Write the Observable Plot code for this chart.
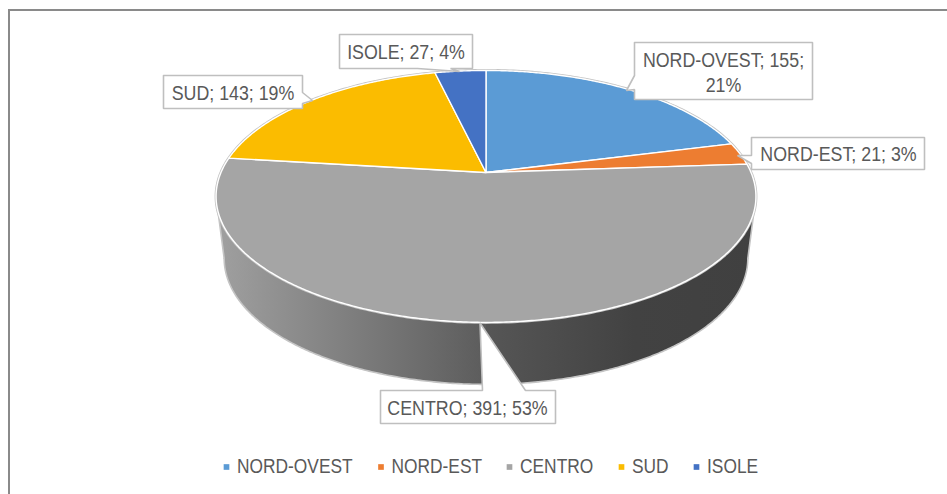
<!DOCTYPE html>
<html>
<head>
<meta charset="utf-8">
<script src="https://cdn.jsdelivr.net/npm/d3@7"></script>
<script src="https://cdn.jsdelivr.net/npm/@observablehq/plot@0.6"></script>
<style>
html,body{margin:0;padding:0;background:#fff}
svg{display:block}
</style>
</head>
<body>
<div id="chart"></div>
<script>
// Chart data
const categories = ["NORD-OVEST", "NORD-EST", "CENTRO", "SUD", "ISOLE"];
const values = [155, 21, 391, 143, 27];
const percents = [21, 3, 53, 19, 4];
const colors = ["#5B9BD5", "#ED7D31", "#A5A5A5", "#FBBC00", "#4472C4"];

// Layout of the perspective disc, in page pixels
const cx = 485.5, cy = 172, persp = 0.19, ax = 265, by = 121.4;
const base = {sx: 0.97, sy: 1, dy: 62};
const rad = (d) => d * Math.PI / 180;
function project(deg, sx = 1, sy = 1, dy = 0) {
  const u = Math.sin(rad(deg)), v = Math.cos(rad(deg)), w = 1 + persp * v;
  return {x: cx + sx * ax * u / w, y: cy + dy - sy * by * v / w};
}
const total = d3.sum(values);
const cum = d3.cumsum(values);

// Top face slices
const sliceRows = categories.flatMap((name, i) => {
  const a0 = (i ? cum[i - 1] : 0) / total * 360, a1 = cum[i] / total * 360;
  const pts = [{x: cx, y: cy}];
  for (let a = a0; a < a1; a += 0.5) pts.push(project(a));
  pts.push(project(a1), {x: cx, y: cy});
  return pts.map((p) => ({...p, name}));
});
// Whole rim
const rimRows = d3.range(0, 360.5, 1).map((a) => project(a));
// Side walls
function wall(a0, a1, key) {
  const lo = [], hi = [];
  const step = a1 > a0 ? 0.5 : -0.5;
  for (let a = a0; step > 0 ? a <= a1 : a >= a1; a += step) {
    lo.push(project(a, base.sx, base.sy, base.dy));
    hi.push(project(a));
  }
  return [...hi, ...lo.reverse(), hi[0]].map((p) => ({...p, key}));
}
const wallLeft = wall(180, 259, "l");
const wallRight = wall(101, 180, "r");
const baseEdge = d3.range(101, 259.5, 0.5).map((a) => project(a, base.sx, base.sy, base.dy));
const silhouetteL = [project(259), project(259, base.sx, base.sy, base.dy)];
const silhouetteR = [project(101), project(101, base.sx, base.sy, base.dy)];

// Label text
const labelText = categories.map((n, i) => `${n}; ${values[i]}; ${percents[i]}%`);
labelText[0] = `${categories[0]}; ${values[0]};\n${percents[0]}%`;
const labelPos = [
  {x: 723, y: 70.5}, {x: 838, y: 152.5}, {x: 467, y: 406}, {x: 232.5, y: 91}, {x: 405.5, y: 50.5}
];
const labels = labelText.map((t, i) => ({t, ...labelPos[i]}));
// Callout outlines
const calloutOutlines = [
  [[634,42],[812,42],[812,99],[634,99],[634,89],[626,90],[634,75]],
  [[751,137],[924,137],[924,169],[751,169],[751,163],[737,155],[751,155]],
  [[380,390],[482,390],[479.5,322.5],[525,390],[555,390],[555,423],[380,423]],
  [[163,75],[302,75],[302,92],[312,100],[302,103],[302,108],[163,108]],
  [[339,34],[472,34],[472,68],[450,68],[459,71],[417,68],[339,68]]
];
const calloutRows = calloutOutlines.flatMap((o, k) =>
  [...o, o[0]].map(([x, y]) => ({x, y, k})));

// Legend
const legendX = [226, 380.5, 509, 621, 696];
const legendRows = categories.map((name, i) => ({name, x: legendX[i]}));
const legendY = 466.5;

const defs = () => {
  const d = d3.create("svg:defs");
  const gl = d.append("linearGradient").attr("id", "wallL");
  gl.append("stop").attr("offset", 0).attr("stop-color", "#a0a0a0");
  gl.append("stop").attr("offset", 1).attr("stop-color", "#5c5c5c");
  const gr = d.append("linearGradient").attr("id", "wallR");
  gr.append("stop").attr("offset", 0).attr("stop-color", "#565656");
  gr.append("stop").attr("offset", 0.55).attr("stop-color", "#424242");
  gr.append("stop").attr("offset", 1).attr("stop-color", "#404040");
  return d.node();
};

const font = "Liberation Sans, Arial, sans-serif";
const chart = Plot.plot({
  width: 947, height: 494,
  margin: 0,
  x: {domain: [0, 947], range: [0, 947], axis: null},
  y: {domain: [0, 494], range: [0, 494], axis: null},
  color: {domain: categories, range: colors},
  style: {background: "#fff"},
  marks: [
    // chart frame (left and top only are in view)
    Plot.ruleX([8.5], {stroke: "#8a8a8a", strokeWidth: 2, y1: 9, y2: 494}),
    Plot.ruleY([9.5], {stroke: "#8a8a8a", strokeWidth: 2, x1: 8, x2: 947}),
    defs,
    Plot.line(wallLeft, {x: "x", y: "y", fill: "url(#wallL)", stroke: "none"}),
    Plot.line(wallRight, {x: "x", y: "y", fill: "url(#wallR)", stroke: "none"}),
    Plot.line(baseEdge, {x: "x", y: "y", stroke: "#c4c4c4", strokeWidth: 1.6}),
    Plot.line(silhouetteL, {x: "x", y: "y", stroke: "#c4c4c4", strokeWidth: 1.6}),
    Plot.line(silhouetteR, {x: "x", y: "y", stroke: "#c4c4c4", strokeWidth: 1.6}),
    Plot.line(rimRows, {x: "x", y: "y", stroke: "#c4c4c4", strokeWidth: 3}),
    Plot.line(sliceRows, {x: "x", y: "y", z: "name", fill: "name", stroke: "#fff", strokeWidth: 1.4, strokeLinejoin: "round"}),
    Plot.line(calloutRows, {x: "x", y: "y", z: "k", fill: "#fff", stroke: "#bfbfbf", strokeWidth: 1.6, strokeLinejoin: "miter"}),
    Plot.text(labels, {x: "x", y: "y", text: "t", fill: "#595959", fontSize: 20, fontFamily: font, lineHeight: 1.25}),
    Plot.dot(legendRows, {x: "x", y: () => legendY, fill: "name", symbol: "square", r: 3.2}),
    Plot.text(legendRows, {x: (d) => d.x + 10.5, y: () => legendY, text: "name", fill: "#595959", fontSize: 19.5, fontFamily: font, textAnchor: "start"})
  ]
});
document.getElementById("chart").append(chart);
// The reference's type is a narrow sans: squeeze each line of text horizontally.
chart.querySelectorAll("text").forEach((t) => {
  const lines = t.querySelectorAll("tspan");
  (lines.length ? [...lines] : [t]).forEach((el) => {
    el.setAttribute("textLength", (el.getComputedTextLength() * 0.89).toFixed(1));
    el.setAttribute("lengthAdjust", "spacingAndGlyphs");
  });
});
</script>
</body>
</html>
